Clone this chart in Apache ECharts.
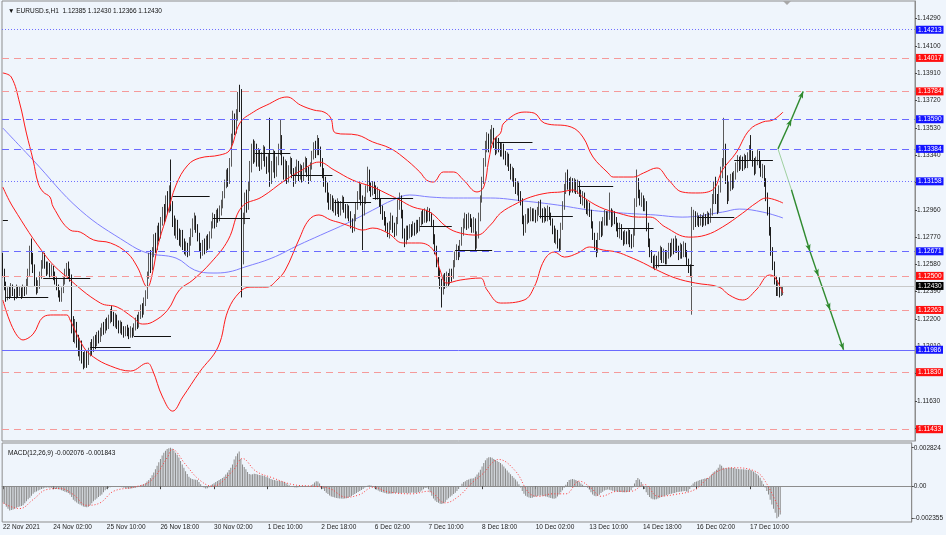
<!DOCTYPE html>
<html><head><meta charset="utf-8">
<script src="https://cdn.jsdelivr.net/npm/echarts@6/dist/echarts.min.js"></script>
<style>html,body{margin:0;padding:0;background:#eff5fc}#c{width:946px;height:535px}</style>
</head><body><div id="c"></div>
<script>
// ---------- DATA ----------
const FIRST_OPEN = 1.1262;
const closes = [
1.1252,1.1243,1.1235,1.1240,1.1237,1.1242,1.1239,1.1236,1.1241,1.1238,
1.1240,1.1236,1.1241,1.1238,1.1244,1.1252,1.1268,1.1262,1.1255,1.1246,
1.1240,1.1244,1.1250,1.1258,1.1264,1.1258,1.1254,1.1257,1.1252,1.1255,
1.1250,1.1247,1.1242,1.1238,1.1235,1.1240,1.1246,1.1252,1.1256,1.1251,
1.1249,1.1214,1.1208,1.1216,1.1205,1.1198,1.1203,1.1193,1.1189,1.1195,
1.1190,1.1197,1.1201,1.1199,1.1205,1.1203,1.1208,1.1206,1.1211,1.1214,
1.1212,1.1217,1.1215,1.1220,1.1224,1.1221,1.1218,1.1221,1.1216,1.1213,
1.1216,1.1212,1.1210,1.1213,1.1211,1.1209,1.1212,1.1210,1.1214,1.1219,
1.1216,1.1223,1.1227,1.1224,1.1232,1.1236,1.1250,1.1262,1.1256,1.1266,
1.1275,1.1270,1.1282,1.1278,1.1288,1.1294,1.1290,1.1302,1.1296,1.1308,
1.1298,1.1288,1.1282,1.1287,1.1279,1.1275,1.1280,1.1272,1.1268,1.1271,
1.1266,1.1274,1.1280,1.1286,1.1290,1.1283,1.1278,1.1270,1.1266,1.1272,
1.1268,1.1275,1.1271,1.1278,1.1285,1.1290,1.1286,1.1293,1.1290,1.1296,
1.1300,1.1306,1.1314,1.1320,1.1316,1.1328,1.1345,1.1360,1.1352,1.1362,
1.1372,1.1368,1.1262,1.1290,1.1303,1.1298,1.1312,1.1326,1.1338,1.1332,
1.1340,1.1330,1.1336,1.1327,1.1333,1.1338,1.1330,1.1325,1.1332,1.1318,
1.1326,1.1334,1.1322,1.1330,1.1338,1.1345,1.1330,1.1322,1.1328,1.1318,
1.1324,1.1330,1.1322,1.1316,1.1323,1.1328,1.1320,1.1325,1.1319,1.1325,
1.1330,1.1323,1.1318,1.1326,1.1334,1.1340,1.1336,1.1343,1.1338,1.1330,
1.1322,1.1316,1.1312,1.1305,1.1300,1.1304,1.1298,1.1301,1.1296,1.1300,
1.1295,1.1299,1.1303,1.1298,1.1293,1.1297,1.1292,1.1287,1.1283,1.1290,
1.1298,1.1306,1.1312,1.1303,1.1295,1.1302,1.1310,1.1320,1.1312,1.1308,
1.1314,1.1310,1.1306,1.1309,1.1301,1.1296,1.1292,1.1288,1.1284,1.1280,
1.1285,1.1290,1.1284,1.1280,1.1288,1.1300,1.1305,1.1294,1.1280,1.1274,
1.1282,1.1278,1.1283,1.1280,1.1285,1.1281,1.1286,1.1283,1.1288,1.1292,
1.1289,1.1294,1.1290,1.1295,1.1291,1.1287,1.1276,1.1268,1.1260,1.1252,
1.1245,1.1240,1.1248,1.1244,1.1250,1.1246,1.1252,1.1249,1.1258,1.1264,
1.1268,1.1264,1.1272,1.1280,1.1286,1.1290,1.1285,1.1291,1.1287,1.1283,
1.1288,1.1272,1.1278,1.1290,1.1303,1.1316,1.1328,1.1340,1.1346,1.1340,
1.1348,1.1350,1.1343,1.1338,1.1344,1.1340,1.1336,1.1340,1.1334,1.1330,
1.1333,1.1326,1.1320,1.1323,1.1316,1.1310,1.1313,1.1306,1.1302,1.1290,
1.1282,1.1290,1.1294,1.1290,1.1295,1.1291,1.1294,1.1290,1.1295,1.1298,
1.1294,1.1290,1.1295,1.1291,1.1296,1.1292,1.1288,1.1282,1.1276,1.1280,
1.1273,1.1270,1.1284,1.1298,1.1310,1.1318,1.1314,1.1310,1.1316,1.1311,
1.1315,1.1310,1.1314,1.1308,1.1303,1.1306,1.1300,1.1296,1.1299,1.1294,
1.1286,1.1278,1.1272,1.1268,1.1277,1.1285,1.1280,1.1288,1.1293,1.1288,
1.1292,1.1295,1.1288,1.1293,1.1289,1.1284,1.1280,1.1284,1.1278,1.1274,
1.1279,1.1275,1.1280,1.1276,1.1272,1.1280,1.1300,1.1315,1.1308,1.1302,
1.1305,1.1298,1.1301,1.1285,1.1274,1.1266,1.1262,1.1258,1.1262,1.1258,
1.1264,1.1268,1.1262,1.1266,1.1261,1.1265,1.1270,1.1266,1.1273,1.1268,
1.1274,1.1269,1.1264,1.1270,1.1265,1.1271,1.1266,1.1260,1.1255,1.1252,
1.1285,1.1292,1.1287,1.1290,1.1286,1.1290,1.1287,1.1291,1.1288,1.1292,
1.1289,1.1294,1.1304,1.1312,1.1305,1.1296,1.1310,1.1322,1.1328,1.1340,
1.1318,1.1304,1.1312,1.1318,1.1314,1.1320,1.1326,1.1330,1.1326,1.1331,
1.1327,1.1332,1.1328,1.1333,1.1338,1.1334,1.1330,1.1324,1.1330,1.1335,
1.1328,1.1322,1.1325,1.1316,1.1306,1.1296,1.1282,1.1268,1.1258,1.1248,
1.1240,1.1244,1.1238,1.12385,1.1243];
const highs = [
1.1266,1.1255,1.1246,1.1242,1.1243,1.1245,1.1244,1.1241,1.1244,1.1243,
1.1243,1.1242,1.1244,1.1243,1.1248,1.1255,1.1271,1.1276,1.1266,1.1258,
1.1249,1.1247,1.1253,1.1261,1.1267,1.1266,1.1260,1.1260,1.1259,1.1258,
1.1257,1.1253,1.1249,1.1244,1.1240,1.1242,1.1249,1.1255,1.1259,1.1260,
1.1255,1.1251,1.1222,1.1220,1.1218,1.1209,1.1207,1.1205,1.1197,1.1198,
1.1198,1.1200,1.1204,1.1206,1.1208,1.1209,1.1211,1.1212,1.1214,1.1217,
1.1218,1.1220,1.1221,1.1223,1.1227,1.1229,1.1225,1.1224,1.1223,1.1219,
1.1219,1.1218,1.1215,1.1215,1.1216,1.1214,1.1215,1.1214,1.1217,1.1221,
1.1223,1.1225,1.1230,1.1231,1.1235,1.1240,1.1253,1.1266,1.1268,1.1270,
1.1279,1.1280,1.1285,1.1287,1.1291,1.1298,1.1300,1.1306,1.1309,1.1313,
1.1331,1.1302,1.1292,1.1290,1.1289,1.1283,1.1282,1.1282,1.1276,1.1274,
1.1273,1.1277,1.1283,1.1290,1.1294,1.1292,1.1286,1.1280,1.1273,1.1275,
1.1276,1.1278,1.1279,1.1281,1.1288,1.1294,1.1293,1.1296,1.1297,1.1299,
1.1303,1.1309,1.1317,1.1324,1.1325,1.1332,1.1349,1.1365,1.1363,1.1366,
1.1378,1.1383,1.1380,1.1294,1.1308,1.1310,1.1316,1.1330,1.1342,1.1345,
1.1344,1.1342,1.1339,1.1338,1.1336,1.1341,1.1340,1.1333,1.1335,1.1360,
1.1330,1.1338,1.1337,1.1333,1.1342,1.1359,1.1348,1.1333,1.1331,1.1330,
1.1327,1.1333,1.1332,1.1325,1.1326,1.1331,1.1330,1.1328,1.1327,1.1329,
1.1333,1.1332,1.1326,1.1329,1.1337,1.1343,1.1344,1.1348,1.1346,1.1340,
1.1332,1.1325,1.1319,1.1315,1.1308,1.1307,1.1306,1.1304,1.1303,1.1304,
1.1302,1.1302,1.1306,1.1305,1.1300,1.1300,1.1299,1.1295,1.1290,1.1293,
1.1301,1.1309,1.1315,1.1314,1.1306,1.1305,1.1313,1.1326,1.1324,1.1315,
1.1316,1.1316,1.1313,1.1312,1.1310,1.1304,1.1299,1.1295,1.1291,1.1287,
1.1288,1.1294,1.1292,1.1287,1.1291,1.1303,1.1308,1.1306,1.1296,1.1283,
1.1285,1.1285,1.1286,1.1286,1.1288,1.1287,1.1289,1.1289,1.1291,1.1295,
1.1296,1.1297,1.1296,1.1298,1.1297,1.1294,1.1289,1.1279,1.1271,1.1263,
1.1255,1.1248,1.1251,1.1252,1.1253,1.1252,1.1255,1.1255,1.1261,1.1267,
1.1272,1.1271,1.1275,1.1284,1.1290,1.1294,1.1293,1.1294,1.1293,1.1290,
1.1291,1.1290,1.1281,1.1294,1.1306,1.1319,1.1332,1.1344,1.1350,1.1349,
1.1352,1.1355,1.1353,1.1346,1.1347,1.1346,1.1343,1.1343,1.1342,1.1337,
1.1336,1.1335,1.1328,1.1326,1.1325,1.1318,1.1316,1.1315,1.1309,1.1304,
1.1292,1.1293,1.1297,1.1297,1.1298,1.1297,1.1297,1.1296,1.1298,1.1302,
1.1303,1.1297,1.1298,1.1297,1.1299,1.1298,1.1294,1.1290,1.1285,1.1283,
1.1282,1.1276,1.1287,1.1302,1.1314,1.1322,1.1324,1.1318,1.1319,1.1318,
1.1318,1.1317,1.1317,1.1316,1.1310,1.1309,1.1308,1.1303,1.1302,1.1301,
1.1296,1.1288,1.1280,1.1275,1.1280,1.1288,1.1288,1.1291,1.1296,1.1295,
1.1295,1.1308,1.1297,1.1296,1.1295,1.1291,1.1287,1.1287,1.1286,1.1281,
1.1282,1.1281,1.1283,1.1282,1.1279,1.1283,1.1304,1.1324,1.1318,1.1310,
1.1308,1.1306,1.1304,1.1302,1.1287,1.1276,1.1268,1.1264,1.1265,1.1264,
1.1267,1.1271,1.1270,1.1269,1.1268,1.1268,1.1273,1.1273,1.1276,1.1276,
1.1278,1.1276,1.1271,1.1273,1.1272,1.1274,1.1273,1.1268,1.1262,1.1258,
1.1298,1.1296,1.1295,1.1294,1.1292,1.1293,1.1292,1.1294,1.1293,1.1295,
1.1294,1.1297,1.1307,1.1316,1.1319,1.1307,1.1313,1.1326,1.1332,1.1360,
1.1342,1.1320,1.1316,1.1321,1.1322,1.1323,1.1329,1.1334,1.1333,1.1334,
1.1333,1.1335,1.1334,1.1336,1.1341,1.1348,1.1337,1.1332,1.1333,1.1338,
1.1337,1.1330,1.1328,1.1327,1.1318,1.1308,1.1298,1.1284,1.1270,1.1260,
1.1250,1.1247,1.1249,1.1243,1.1243];
const lows = [
1.1249,1.1240,1.1232,1.1233,1.1234,1.1235,1.1236,1.1233,1.1234,1.1235,
1.1236,1.1234,1.1235,1.1236,1.1237,1.1243,1.1250,1.1258,1.1252,1.1243,
1.1237,1.1238,1.1241,1.1248,1.1255,1.1255,1.1250,1.1251,1.1249,1.1250,
1.1247,1.1244,1.1240,1.1235,1.1232,1.1232,1.1238,1.1244,1.1250,1.1248,
1.1246,1.1210,1.1204,1.1203,1.1200,1.1194,1.1191,1.1189,1.1185,1.1186,
1.1186,1.1188,1.1194,1.1195,1.1197,1.1199,1.1201,1.1203,1.1204,1.1208,
1.1209,1.1210,1.1212,1.1213,1.1217,1.1218,1.1215,1.1214,1.1213,1.1210,
1.1210,1.1209,1.1207,1.1208,1.1208,1.1206,1.1207,1.1207,1.1208,1.1212,
1.1213,1.1214,1.1220,1.1221,1.1223,1.1229,1.1234,1.1248,1.1252,1.1254,
1.1263,1.1266,1.1268,1.1274,1.1276,1.1285,1.1286,1.1288,1.1293,1.1294,
1.1295,1.1284,1.1278,1.1276,1.1275,1.1271,1.1270,1.1268,1.1265,1.1264,
1.1263,1.1264,1.1271,1.1277,1.1282,1.1280,1.1274,1.1267,1.1262,1.1264,
1.1265,1.1266,1.1268,1.1269,1.1276,1.1283,1.1283,1.1284,1.1287,1.1288,
1.1292,1.1297,1.1304,1.1311,1.1312,1.1314,1.1326,1.1342,1.1348,1.1349,
1.1358,1.1364,1.1235,1.1258,1.1286,1.1294,1.1296,1.1309,1.1322,1.1328,
1.1329,1.1326,1.1326,1.1323,1.1324,1.1330,1.1326,1.1321,1.1322,1.1312,
1.1314,1.1322,1.1318,1.1319,1.1327,1.1334,1.1327,1.1317,1.1316,1.1314,
1.1315,1.1321,1.1318,1.1312,1.1314,1.1320,1.1316,1.1317,1.1315,1.1316,
1.1322,1.1319,1.1314,1.1316,1.1324,1.1331,1.1332,1.1334,1.1334,1.1326,
1.1318,1.1312,1.1308,1.1301,1.1296,1.1296,1.1295,1.1294,1.1292,1.1293,
1.1291,1.1292,1.1296,1.1294,1.1290,1.1290,1.1288,1.1283,1.1280,1.1281,
1.1288,1.1296,1.1303,1.1299,1.1268,1.1292,1.1300,1.1308,1.1309,1.1305,
1.1306,1.1307,1.1303,1.1303,1.1298,1.1293,1.1289,1.1285,1.1281,1.1277,
1.1276,1.1282,1.1280,1.1277,1.1278,1.1286,1.1296,1.1290,1.1276,1.1270,
1.1272,1.1275,1.1276,1.1277,1.1278,1.1278,1.1279,1.1280,1.1281,1.1285,
1.1286,1.1287,1.1287,1.1288,1.1288,1.1284,1.1272,1.1265,1.1256,1.1248,
1.1241,1.1228,1.1237,1.1241,1.1242,1.1243,1.1244,1.1246,1.1248,1.1256,
1.1261,1.1261,1.1263,1.1271,1.1278,1.1283,1.1282,1.1283,1.1284,1.1280,
1.1280,1.1268,1.1269,1.1276,1.1288,1.1301,1.1314,1.1326,1.1336,1.1336,
1.1337,1.1342,1.1339,1.1334,1.1335,1.1336,1.1333,1.1333,1.1331,1.1327,
1.1326,1.1323,1.1317,1.1316,1.1312,1.1307,1.1306,1.1302,1.1299,1.1286,
1.1278,1.1280,1.1286,1.1287,1.1288,1.1288,1.1288,1.1287,1.1288,1.1292,
1.1290,1.1287,1.1287,1.1288,1.1288,1.1289,1.1285,1.1279,1.1273,1.1272,
1.1269,1.1267,1.1268,1.1282,1.1296,1.1307,1.1310,1.1306,1.1308,1.1308,
1.1308,1.1307,1.1307,1.1305,1.1300,1.1299,1.1297,1.1293,1.1292,1.1291,
1.1283,1.1275,1.1268,1.1263,1.1266,1.1275,1.1277,1.1278,1.1285,1.1285,
1.1285,1.1289,1.1284,1.1285,1.1286,1.1281,1.1277,1.1276,1.1275,1.1271,
1.1272,1.1272,1.1272,1.1270,1.1269,1.1270,1.1278,1.1298,1.1304,1.1299,
1.1298,1.1295,1.1295,1.1281,1.1270,1.1263,1.1259,1.1255,1.1254,1.1255,
1.1256,1.1261,1.1259,1.1259,1.1258,1.1258,1.1262,1.1263,1.1264,1.1265,
1.1266,1.1266,1.1261,1.1262,1.1262,1.1263,1.1263,1.1257,1.1252,1.1249,
1.1223,1.1282,1.1284,1.1285,1.1284,1.1285,1.1284,1.1285,1.1285,1.1286,
1.1286,1.1287,1.1292,1.1300,1.1300,1.1293,1.1294,1.1308,1.1318,1.1326,
1.1314,1.1300,1.1302,1.1309,1.1310,1.1311,1.1317,1.1322,1.1323,1.1324,
1.1323,1.1324,1.1325,1.1325,1.1330,1.1330,1.1326,1.1320,1.1321,1.1327,
1.1325,1.1319,1.1318,1.1312,1.1302,1.1292,1.1278,1.1264,1.1254,1.1244,
1.1236,1.1236,1.1235,1.1236,1.12366];

const macdHist = [
-0.00120,-0.00130,-0.00150,-0.00165,-0.00178,-0.00175,-0.00170,-0.00165,-0.00158,-0.00152,
-0.00148,-0.00145,-0.00140,-0.00125,-0.00110,-0.00095,-0.00085,-0.00070,-0.00055,-0.00045,
-0.00038,-0.00032,-0.00026,-0.00020,-0.00016,-0.00012,-0.00010,-0.00010,-0.00012,-0.00012,
-0.00015,-0.00018,-0.00020,-0.00022,-0.00025,-0.00030,-0.00035,-0.00040,-0.00045,-0.00050,
-0.00060,-0.00080,-0.00100,-0.00110,-0.00120,-0.00128,-0.00135,-0.00142,-0.00148,-0.00152,
-0.00155,-0.00150,-0.00140,-0.00125,-0.00110,-0.00100,-0.00090,-0.00080,-0.00070,-0.00060,
-0.00045,-0.00030,-0.00020,-0.00012,-0.00008,-0.00005,-0.00002,0.00002,0.00000,-0.00003,
-0.00005,-0.00008,-0.00010,-0.00014,-0.00017,-0.00018,-0.00016,-0.00015,-0.00014,-0.00012,
-0.00008,-0.00003,0.00005,0.00010,0.00015,0.00022,0.00035,0.00045,0.00060,0.00080,
0.00100,0.00125,0.00150,0.00175,0.00200,0.00225,0.00245,0.00260,0.00272,0.00278,
0.00282,0.00275,0.00262,0.00245,0.00230,0.00210,0.00185,0.00160,0.00135,0.00110,
0.00090,0.00070,0.00058,0.00052,0.00050,0.00048,0.00045,0.00030,0.00015,0.00002,
-0.00010,-0.00017,-0.00015,-0.00008,0.00005,0.00015,0.00022,0.00030,0.00038,0.00045,
0.00052,0.00060,0.00070,0.00085,0.00100,0.00118,0.00135,0.00160,0.00195,0.00220,
0.00240,0.00255,0.00200,0.00160,0.00140,0.00125,0.00105,0.00090,0.00085,0.00088,
0.00092,0.00090,0.00086,0.00082,0.00080,0.00078,0.00074,0.00070,0.00065,0.00058,
0.00052,0.00048,0.00045,0.00042,0.00040,0.00038,0.00037,0.00035,0.00030,0.00022,
0.00012,0.00005,0.00000,-0.00005,-0.00008,-0.00010,-0.00008,-0.00005,-0.00003,-0.00005,
-0.00006,-0.00004,-0.00002,0.00000,0.00005,0.00015,0.00028,0.00037,0.00035,0.00020,
0.00000,-0.00020,-0.00035,-0.00048,-0.00058,-0.00068,-0.00075,-0.00080,-0.00083,-0.00086,
-0.00088,-0.00090,-0.00091,-0.00092,-0.00090,-0.00088,-0.00085,-0.00080,-0.00072,-0.00065,
-0.00058,-0.00050,-0.00042,-0.00035,-0.00028,-0.00020,-0.00010,0.00000,0.00005,0.00007,
0.00004,-0.00005,-0.00015,-0.00025,-0.00032,-0.00038,-0.00042,-0.00046,-0.00050,-0.00053,
-0.00055,-0.00056,-0.00054,-0.00052,-0.00050,-0.00048,-0.00050,-0.00052,-0.00050,-0.00048,
-0.00050,-0.00052,-0.00051,-0.00049,-0.00047,-0.00048,-0.00050,-0.00048,-0.00045,-0.00040,
-0.00032,-0.00022,-0.00014,-0.00012,-0.00020,-0.00045,-0.00070,-0.00090,-0.00105,-0.00115,
-0.00122,-0.00128,-0.00130,-0.00125,-0.00115,-0.00100,-0.00088,-0.00078,-0.00068,-0.00058,
-0.00048,-0.00035,-0.00020,0.00000,0.00018,0.00030,0.00037,0.00045,0.00050,0.00054,
0.00056,0.00058,0.00070,0.00085,0.00100,0.00120,0.00145,0.00170,0.00190,0.00205,
0.00212,0.00213,0.00208,0.00200,0.00192,0.00185,0.00178,0.00170,0.00160,0.00145,
0.00130,0.00115,0.00100,0.00088,0.00075,0.00062,0.00050,0.00035,0.00015,-0.00010,
-0.00035,-0.00055,-0.00070,-0.00078,-0.00083,-0.00086,-0.00085,-0.00080,-0.00075,-0.00072,
-0.00070,-0.00068,-0.00070,-0.00072,-0.00075,-0.00078,-0.00082,-0.00086,-0.00090,-0.00092,
-0.00088,-0.00075,-0.00060,-0.00045,-0.00030,-0.00012,0.00010,0.00030,0.00045,0.00050,
0.00052,0.00050,0.00045,0.00038,0.00030,0.00020,0.00010,0.00002,-0.00005,-0.00012,
-0.00025,-0.00045,-0.00060,-0.00070,-0.00074,-0.00072,-0.00062,-0.00050,-0.00040,-0.00032,
-0.00028,-0.00025,-0.00026,-0.00030,-0.00033,-0.00036,-0.00038,-0.00040,-0.00042,-0.00043,
-0.00044,-0.00045,-0.00044,-0.00042,-0.00040,-0.00030,-0.00010,0.00020,0.00045,0.00060,
0.00050,0.00030,0.00005,-0.00020,-0.00045,-0.00065,-0.00080,-0.00090,-0.00095,-0.00098,
-0.00095,-0.00090,-0.00085,-0.00080,-0.00075,-0.00070,-0.00066,-0.00062,-0.00058,-0.00055,
-0.00052,-0.00050,-0.00045,-0.00042,-0.00040,-0.00038,-0.00037,-0.00036,-0.00038,-0.00040,
-0.00020,0.00005,0.00020,0.00030,0.00035,0.00040,0.00045,0.00050,0.00053,0.00056,
0.00058,0.00060,0.00070,0.00085,0.00100,0.00110,0.00120,0.00135,0.00160,0.00150,
0.00135,0.00130,0.00132,0.00135,0.00136,0.00135,0.00133,0.00130,0.00128,0.00126,
0.00125,0.00124,0.00124,0.00122,0.00121,0.00120,0.00118,0.00115,0.00108,0.00100,
0.00090,0.00078,0.00062,0.00040,0.00015,-0.00010,-0.00035,-0.00060,-0.00100,-0.00135,
-0.00165,-0.00195,-0.00236,-0.00225,-0.00208];

// signal line points [bar index, value]
const macdSignal = [[0,-0.00122],[4,-0.00147],[10,-0.00164],[18,-0.00098],[26,-0.00025],[34,-0.00017],[42,-0.00061],[50,-0.00140],[58,-0.00122],[66,-0.00037],[78,-0.00007],[88,0.00037],[98,0.00208],[101,0.00270],[109,0.00159],[117,0.00049],[125,0.00000],[137,0.00110],[143,0.00203],[151,0.00110],[161,0.00061],[173,0.00012],[185,0.00000],[195,-0.00017],[205,-0.00081],[213,-0.00061],[221,-0.00007],[230,-0.00042],[244,-0.00056],[254,-0.00037],[264,-0.00122],[272,-0.00074],[280,0.00025],[286,0.00086],[296,0.00196],[306,0.00110],[314,-0.00049],[320,-0.00074],[328,-0.00056],[336,-0.00056],[344,0.00037],[351,-0.00012],[357,-0.00074],[367,-0.00037],[375,-0.00037],[383,0.00012],[391,-0.00074],[401,-0.00061],[413,-0.00025],[421,0.00061],[429,0.00122],[437,0.00135],[449,0.00110],[455,0.00037],[464,-0.00184]];

// Bollinger-style envelope and moving average, read at points [bar index, price]
const upperBand = [[0,1.13912],[5,1.13884],[10,1.13703],[14,1.13494],[18,1.13306],[21,1.13146],[24,1.13084],[28,1.13049],[30,1.12979],[40,1.12819],[46,1.12805],[54,1.12750],[64,1.12729],[74,1.12659],[80,1.12562],[86,1.12422],[89,1.12520],[92,1.12701],[98,1.12937],[103,1.13132],[110,1.13271],[117,1.13320],[129,1.13341],[135,1.13376],[141,1.13564],[149,1.13640],[157,1.13689],[169,1.13745],[177,1.13689],[185,1.13654],[191,1.13640],[195,1.13599],[198,1.13494],[211,1.13480],[220,1.13432],[230,1.13390],[238,1.13327],[248,1.13223],[252,1.13167],[256,1.13153],[262,1.13223],[268,1.13223],[274,1.13167],[282,1.13084],[286,1.13118],[289,1.13306],[292,1.13446],[296,1.13494],[298,1.13564],[310,1.13640],[316,1.13633],[322,1.13564],[338,1.13536],[345,1.13466],[351,1.13327],[360,1.13216],[363,1.13188],[375,1.13188],[381,1.13216],[389,1.13251],[396,1.13167],[404,1.13084],[412,1.13077],[422,1.13098],[428,1.13237],[436,1.13355],[444,1.13515],[452,1.13571],[458,1.13585],[464,1.13640]];
const middleBand = [[0,1.13118],[6,1.12979],[26,1.12631],[38,1.12492],[58,1.12311],[68,1.12283],[77,1.12214],[83,1.12165],[89,1.12179],[98,1.12262],[105,1.12402],[113,1.12471],[124,1.12596],[134,1.12750],[142,1.12979],[154,1.13049],[168,1.13167],[178,1.13237],[188,1.13292],[197,1.13237],[208,1.13167],[220,1.13118],[230,1.13063],[236,1.13028],[244,1.12979],[254,1.12944],[264,1.12840],[272,1.12798],[282,1.12784],[290,1.12854],[296,1.12937],[306,1.13007],[314,1.13049],[324,1.13077],[332,1.13084],[339,1.13098],[345,1.13049],[355,1.12979],[366,1.12937],[378,1.12909],[385,1.12909],[394,1.12840],[408,1.12770],[418,1.12784],[428,1.12840],[440,1.12937],[448,1.13007],[454,1.13042],[464,1.13007]];
const lowerBand = [[0,1.12332],[12,1.12054],[18,1.12095],[24,1.12214],[30,1.12228],[38,1.12228],[40,1.12193],[48,1.12005],[54,1.11935],[64,1.11873],[76,1.11838],[86,1.11893],[89,1.11845],[95,1.11657],[101,1.11559],[107,1.11657],[117,1.11831],[128,1.12005],[134,1.12262],[141,1.12388],[147,1.12422],[157,1.12422],[163,1.12471],[168,1.12541],[176,1.12750],[182,1.12889],[188,1.12924],[195,1.12889],[201,1.12868],[208,1.12840],[214,1.12819],[220,1.12833],[229,1.12798],[238,1.12729],[248,1.12729],[256,1.12680],[260,1.12541],[264,1.12450],[272,1.12471],[284,1.12485],[288,1.12402],[296,1.12311],[310,1.12332],[316,1.12422],[322,1.12610],[328,1.12666],[334,1.12631],[342,1.12659],[349,1.12701],[357,1.12680],[365,1.12666],[373,1.12631],[381,1.12589],[389,1.12541],[400,1.12485],[412,1.12450],[426,1.12422],[432,1.12367],[440,1.12332],[448,1.12402],[456,1.12506],[459,1.12492],[464,1.12381]];
const maLine = [[0,1.13529],[18,1.13306],[46,1.12958],[74,1.12729],[86,1.12659],[103,1.12624],[114,1.12541],[125,1.12520],[134,1.12527],[144,1.12562],[160,1.12624],[176,1.12715],[189,1.12784],[205,1.12868],[220,1.12958],[232,1.13028],[242,1.13063],[254,1.13049],[268,1.13042],[290,1.13042],[310,1.13021],[330,1.12993],[349,1.12958],[369,1.12937],[388,1.12924],[404,1.12909],[428,1.12944],[438,1.12965],[452,1.12944],[464,1.12903]];

// short black daily level segments [fromBar, toBar, price]
const daySegments = [[0,3,1.12889],[2,27,1.12353],[24,52,1.12485],[52,76,1.12005],[78,100,1.12082],[101,123,1.13056],[125,147,1.12903],[150,171,1.13355],[172,196,1.13202],[197,219,1.13014],[220,244,1.13042],[248,267,1.12847],[269,291,1.12680],[294,315,1.13432],[319,339,1.12917],[342,363,1.13125],[366,387,1.12833],[388,411,1.12576],[413,435,1.12910],[435,458,1.13306]];

// horizontal price levels
const levelPrices = [1.14213,1.14017,1.13784,1.13590,1.13384,1.13158,1.12671,1.12500,1.12430,1.12263,1.11986,1.11830,1.11433];
const levelKinds  = ['blueDot','redDash','redDash','blueDash','blueDash','blueDot','blueDash','redDash','current','redDash','blueSolid','redDash','redDash'];

// projection arrows [bar index, price]
const arrowUp   = [[461,1.13384],[469,1.13590],[476,1.13784]];
const arrowDown = [[461,1.13384],[469,1.13100],[480,1.12671],[485,1.12500],[492,1.12263],[500,1.11986]];

// axes
const priceTicks = [1.14290,1.14100,1.13910,1.13720,1.13530,1.13340,1.13150,1.12960,1.12770,1.12580,1.12390,1.12200,1.12010,1.11820,1.11630,1.11440];
const macdTicks = [0.002824,0,-0.002355];
const timeLabelBars = [0,30,62,94,126,158,190,222,254,286,318,350,382,414,446];
const timeLabels = ['22 Nov 2021','24 Nov 02:00','25 Nov 10:00','26 Nov 18:00','30 Nov 02:00','1 Dec 10:00','2 Dec 18:00','6 Dec 02:00','7 Dec 10:00','8 Dec 18:00','10 Dec 02:00','13 Dec 10:00','14 Dec 18:00','16 Dec 02:00','17 Dec 10:00'];
const titleText = 'EURUSD.s,H1  1.12385 1.12430 1.12366 1.12430';
const macdText = 'MACD(12,26,9) -0.002076 -0.001843';

// ---------- BUILD ----------
const N_CATS = 543;
const cats = [];
for (let i = 0; i < N_CATS; i++) cats.push(String(i));
const candles = closes.map((c, i) => [i === 0 ? FIRST_OPEN : closes[i - 1], c, lows[i], highs[i]]);
const labelMap = {};
timeLabelBars.forEach((b, k) => { labelMap[String(b)] = timeLabels[k]; });
const isLabel = (idx) => labelMap[String(idx)] !== undefined;

const FONT = 'Liberation Sans';
const FS = 6.5;
const styleOf = {
  blueDot:  {line: {color: '#6f6fff', type: [1, 2], width: 1, opacity: 1}, bg: '#1414ff'},
  blueDash: {line: {color: '#6a6aff', type: [7, 5], width: 1, opacity: 1}, bg: '#1414ff'},
  blueSolid:{line: {color: '#6a6aff', type: 'solid', width: 1, opacity: 1}, bg: '#1414ff'},
  redDash:  {line: {color: '#f59a9a', type: [7, 5], width: 1, opacity: 1}, bg: '#ff1010'},
  current:  {line: {color: '#c9c9c9', type: 'solid', width: 1, opacity: 1}, bg: '#000000'}
};
const levelMarks = levelPrices.map((p, k) => {
  const s = styleOf[levelKinds[k]];
  return {
    yAxis: p,
    lineStyle: s.line,
    label: {show: true, position: 'end', distance: 1, formatter: p.toFixed(5), color: '#fff',
      backgroundColor: s.bg, padding: [1, 2, 0, 2], fontSize: FS, fontFamily: FONT, lineHeight: 7}
  };
});
const segMarks = daySegments.map(s => [
  {coord: [s[0], s[2]], lineStyle: {color: '#111', width: 1, type: 'solid', opacity: 1}, label: {show: false}},
  {coord: [s[1], s[2]]}
]);
function arrowSegs(pts, firstLight) {
  const out = [];
  for (let k = 0; k < pts.length - 1; k++) {
    const light = firstLight && k === 0;
    out.push([
      {coord: pts[k], symbol: 'none', lineStyle: {color: light ? '#9fd09f' : '#2f8a2f', width: light ? 1 : 1.4, type: 'solid', opacity: 1}, label: {show: false}},
      {coord: pts[k + 1], symbol: light ? 'none' : 'arrow'}
    ]);
  }
  return out;
}
const arrowMarks = arrowSegs(arrowUp, false).concat(arrowSegs(arrowDown, true));

const option = {
  animation: false,
  backgroundColor: '#eff5fc',
  textStyle: {fontFamily: FONT},
  title: [
    {text: '\u25BC ' + titleText, left: 3, top: 3, textStyle: {fontSize: FS, fontWeight: 'normal', color: '#111', fontFamily: FONT}},
    {text: macdText, left: 3, top: 445, textStyle: {fontSize: FS, fontWeight: 'normal', color: '#111', fontFamily: FONT}}
  ],
  graphic: [
    {type: 'polygon', shape: {points: [[783, 1], [791, 1], [787, 5]]}, style: {fill: '#a8a8a8'}, z: 100}
  ],
  grid: [
    {left: 2, right: 31, top: 1, height: 440, show: true, borderColor: '#8d8d8d', borderWidth: 1, backgroundColor: 'transparent'},
    {left: 2, right: 31, top: 443, height: 79, show: true, borderColor: '#8d8d8d', borderWidth: 1, backgroundColor: 'transparent'}
  ],
  xAxis: [
    {gridIndex: 0, type: 'category', data: cats, boundaryGap: true,
      axisLine: {show: false}, axisTick: {show: false}, axisLabel: {show: false}, splitLine: {show: false}},
    {gridIndex: 1, type: 'category', data: cats, boundaryGap: true,
      axisLine: {show: true, lineStyle: {color: '#8d8d8d'}},
      axisTick: {show: true, alignWithLabel: true, interval: isLabel, length: 3, lineStyle: {color: '#444'}},
      axisLabel: {interval: isLabel, formatter: (v) => labelMap[v] || '', align: 'left', fontSize: FS, color: '#222', margin: 2, fontFamily: FONT},
      splitLine: {show: false}}
  ],
  yAxis: [
    {gridIndex: 0, type: 'value', position: 'right', min: 1.11351, max: 1.14413, scale: true,
      splitLine: {show: false}, axisLine: {show: true, lineStyle: {color: '#8d8d8d'}},
      axisTick: {show: true, customValues: priceTicks, length: 2, lineStyle: {color: '#444'}},
      axisLabel: {customValues: priceTicks, formatter: (v) => Number(v).toFixed(5), fontSize: FS, color: '#222', margin: 2, fontFamily: FONT}},
    {gridIndex: 1, type: 'value', position: 'right', min: -0.002626, max: 0.003169, scale: true,
      splitLine: {show: false}, axisLine: {show: true, lineStyle: {color: '#8d8d8d'}},
      axisTick: {show: true, customValues: macdTicks, length: 2, lineStyle: {color: '#444'}},
      axisLabel: {customValues: macdTicks, formatter: (v) => (Math.abs(v) < 1e-9 ? '0.00' : Number(v).toFixed(6)), fontSize: FS, color: '#222', margin: 2, fontFamily: FONT}}
  ],
  series: [
    {type: 'candlestick', xAxisIndex: 0, yAxisIndex: 0, data: candles, barWidth: 1, z: 3,
      itemStyle: {color: '#b4b4b4', color0: '#1e1e1e', borderColor: '#5a5a5a', borderColor0: '#1e1e1e', borderWidth: 1}},
    {type: 'line', name: 'upper', xAxisIndex: 0, yAxisIndex: 0, data: upperBand, smooth: 0.4, showSymbol: false, symbol: 'none', z: 4,
      lineStyle: {color: '#ff1a1a', width: 1},
      markLine: {silent: true, precision: 6, symbol: ['none', 'arrow'], symbolSize: [4, 7], animation: false, data: arrowMarks}},
    {type: 'line', name: 'middle', xAxisIndex: 0, yAxisIndex: 0, data: middleBand, smooth: 0.4, showSymbol: false, symbol: 'none', z: 4,
      lineStyle: {color: '#ff1a1a', width: 1}},
    {type: 'line', name: 'lower', xAxisIndex: 0, yAxisIndex: 0, data: lowerBand, smooth: 0.4, showSymbol: false, symbol: 'none', z: 4,
      lineStyle: {color: '#ff1a1a', width: 1},
      markLine: {silent: true, precision: 6, symbol: 'none', animation: false, data: segMarks}},
    {type: 'line', name: 'ma', xAxisIndex: 0, yAxisIndex: 0, data: maLine, smooth: 0.4, showSymbol: false, symbol: 'none', z: 2,
      lineStyle: {color: '#7f7fff', width: 1},
      markLine: {silent: true, precision: 6, symbol: 'none', animation: false, lineStyle: {opacity: 1}, data: levelMarks}},
    {type: 'bar', xAxisIndex: 1, yAxisIndex: 1, data: macdHist, barWidth: 1, itemStyle: {color: '#8a8a8a'}},
    {type: 'line', xAxisIndex: 1, yAxisIndex: 1, data: macdSignal, smooth: 0.4, showSymbol: false, symbol: 'none',
      lineStyle: {color: '#ff3b3b', width: 1, type: [1, 2]}}
  ]
};
const chart = echarts.init(document.getElementById('c'), null, {renderer: 'canvas'});
chart.setOption(option);
</script>
</body></html>
